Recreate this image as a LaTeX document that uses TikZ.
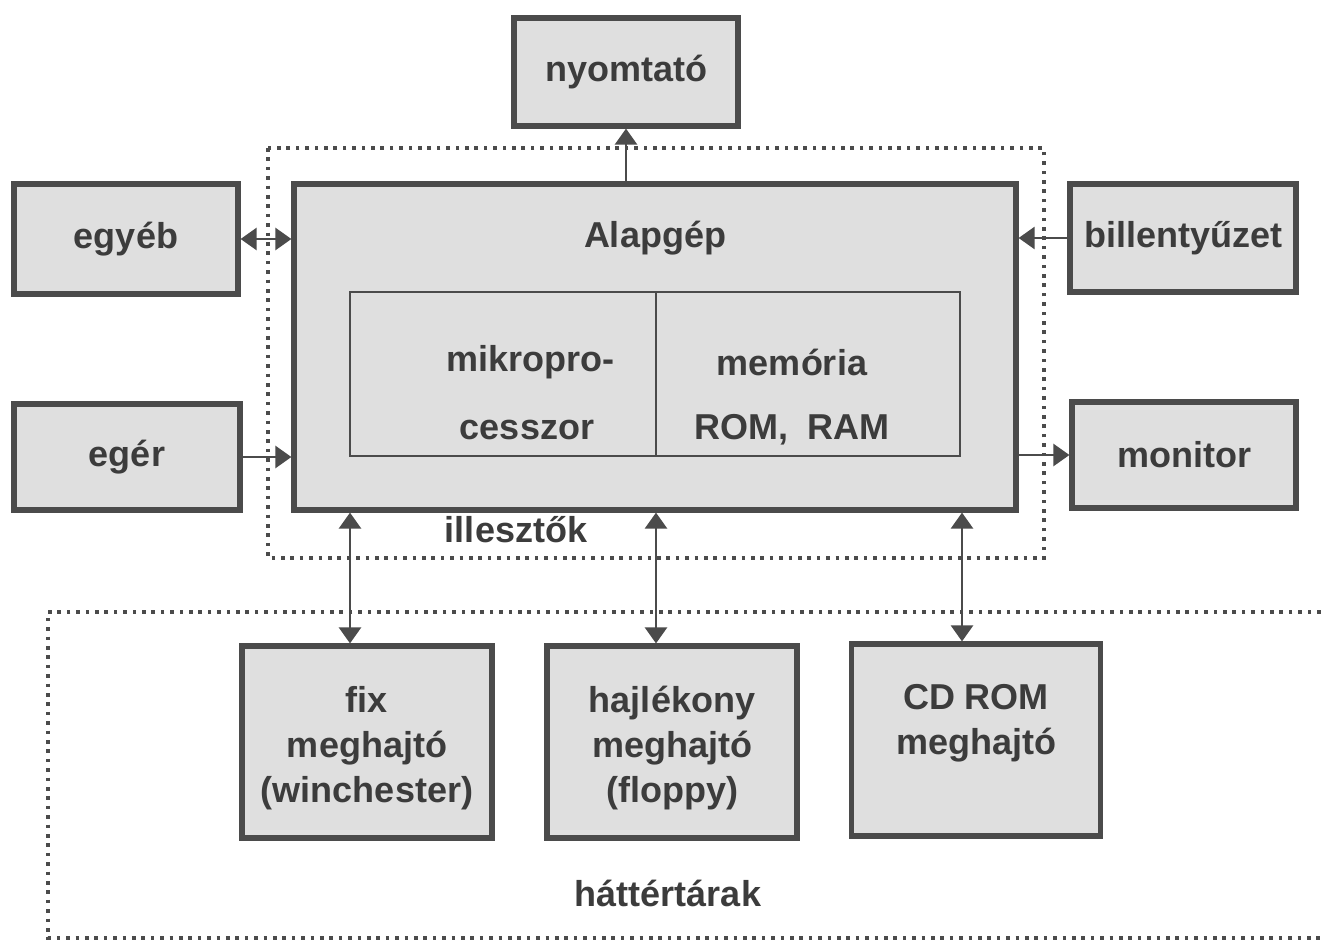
\documentclass[tikz,border=0pt]{standalone}
\usepackage{fontspec}
\setmainfont{Liberation Sans}
\usetikzlibrary{arrows.meta}
\definecolor{bordc}{HTML}{4B4B4B}
\definecolor{txtc}{HTML}{3C3C3C}
\definecolor{fillc}{HTML}{DFDFDF}
\tikzset{
  box/.style={draw=bordc, line width=2.6pt, fill=fillc, text=txtc, inner sep=0pt,
    font=\fontsize{18}{22.5}\selectfont\bfseries, align=center},
  cell/.style={draw=bordc, line width=1pt, inner sep=0pt},
  lbl/.style={text=txtc, inner sep=0pt, font=\fontsize{18}{22.5}\selectfont\bfseries, align=center},
  tip/.style={},
  arr/.style={draw=bordc, line width=1.3pt, -{Triangle[width=11pt,length=8pt]}},
  dblarr/.style={draw=bordc, line width=1.3pt, {Triangle[width=11pt,length=8pt]}-{Triangle[width=11pt,length=8pt]}},
  dotline/.style={draw=bordc, line width=1.7pt, dash pattern=on 1.8pt off 2.9pt}
}
\begin{document}
\begin{tikzpicture}[x=0.5pt,y=-0.5pt]
\useasboundingbox (0,0) rectangle (1321,941);
\fill[white] (0,0) rectangle (1321,941);
% dotted frames
\draw[dotline] (268,148) rectangle (1044,558);
\draw[dotline] (1330,612) -- (48,612) -- (48,938) -- (1330,938);
% main box
\node[box, minimum width=361pt, minimum height=163pt] (alap) at (655,347) {};
\node[cell, minimum width=153pt, minimum height=82pt] (cpu) at (503,374) {};
\node[cell, minimum width=152pt, minimum height=82pt] (mem) at (808,374) {};
\node[lbl] (alaplbl) at (655,238) {Alapgép};
\node[lbl] (cpulbl1) at (530,362) {mikropro-};
\node[lbl] (cpulbl2) at (527,430) {cesszor};
\node[lbl] (memlbl1) at (792,362) {memória};
\node[lbl] (memlbl2) at (792,430) {ROM,\ \ RAM};
\node[lbl] (ill) at (516,530) {illesztők};
% peripherals
\node[box, minimum width=112pt, minimum height=54pt] (nyom) at (626,72) {nyomtató};
\node[box, minimum width=112pt, minimum height=55pt] (egyeb) at (126,239) {egyéb};
\node[box, minimum width=113pt, minimum height=54pt] (bill) at (1183,238) {billentyűzet};
\node[box, minimum width=113pt, minimum height=53pt] (eger) at (127,457) {egér};
\node[box, minimum width=112pt, minimum height=53pt] (mon) at (1184,455) {monitor};
% drives
\node[box, minimum width=125pt, minimum height=96pt] (fix) at (367,742) {};
\node[lbl] (fixlbl) at (367,748) {fix\\meghajtó\\(winchester)};
\node[box, minimum width=125pt, minimum height=96pt] (hajl) at (672,742) {};
\node[lbl] (hajllbl) at (672,748) {hajlékony\\meghajtó\\(floppy)};
\node[box, minimum width=124.5pt, minimum height=96pt] (cd) at (976,740) {};
\node[lbl] (cdlbl) at (976,723) {CD ROM\\meghajtó};
\node[lbl] (hatter) at (668,893) {háttértárak};
% connectors
\draw[arr] (alap.north -| nyom.south) -- (nyom.south);
\draw[dblarr] (egyeb.east) -- (alap.west |- egyeb.east);
\draw[arr] (bill.west) -- (alap.east |- bill.west);
\draw[arr] (eger.east) -- (alap.west |- eger.east);
\draw[arr] (alap.east |- mon.west) -- (mon.west);
\coordinate (x1) at (350,0);
\coordinate (x2) at (656,0);
\coordinate (x3) at (962,0);
\draw[dblarr] (alap.south -| x1) -- (fix.north -| x1);
\draw[dblarr] (alap.south -| x2) -- (hajl.north -| x2);
\draw[dblarr] (alap.south -| x3) -- (cd.north -| x3);
\end{tikzpicture}
\end{document}
